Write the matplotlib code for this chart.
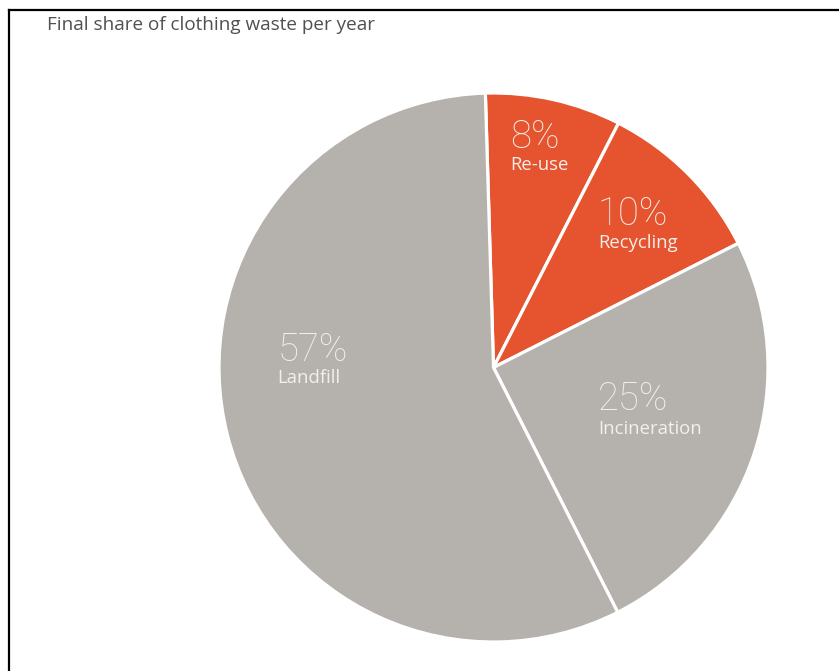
import matplotlib.pyplot as plt
from matplotlib.lines import Line2D

labels = ['Re-use', 'Recycling', 'Incineration', 'Landfill']
shares = [8, 10, 25, 57]
colors = ['#e5542e', '#e5542e', '#b5b1ad', '#b5b1ad']

# label anchor (left edge, y of percent, y of name) in pie units
text_pos = [(0.060, 0.839, 0.736),
            (0.380, 0.560, 0.454),
            (0.380, -0.117, -0.223),
            (-0.786, 0.062, -0.040)]

W, H, DPI = 839, 671, 100
fig = plt.figure(figsize=(W / DPI, H / DPI), dpi=DPI)

cx, cy, r = 493.5, 367.5, 274.5
ax = fig.add_axes([(cx - r) / W, (H - cy - r) / H, 2 * r / W, 2 * r / H])
ax.pie(shares, colors=colors, startangle=91.7, counterclock=False, radius=1,
       wedgeprops=dict(edgecolor='white', linewidth=2.3))
ax.set_xlim(-1, 1)
ax.set_ylim(-1, 1)
ax.axis('off')

for lab, val, (x, yp, yl) in zip(labels, shares, text_pos):
    ax.text(x, yp, f'{val}%', ha='left', va='center', fontsize=27.5,
            family='Roboto', fontweight='light', color='#f3eeeb')
    ax.text(x, yl, lab, ha='left', va='center', fontsize=13.3,
            family='Open Sans', color='#f5efeb')

fig.text(47 / W, 1 - 25 / H, 'Final share of clothing waste per year',
         ha='left', va='center', fontsize=13.6, family='Open Sans', color='#505050')

# frame lines
fig.add_artist(Line2D([9 / W, 9 / W], [0, 1 - 10 / H], color='black', lw=1.6,
                      transform=fig.transFigure))
fig.add_artist(Line2D([9 / W, 1], [1 - 10 / H, 1 - 10 / H], color='black', lw=1.6,
                      transform=fig.transFigure))

fig.savefig('out.png', dpi=DPI)
